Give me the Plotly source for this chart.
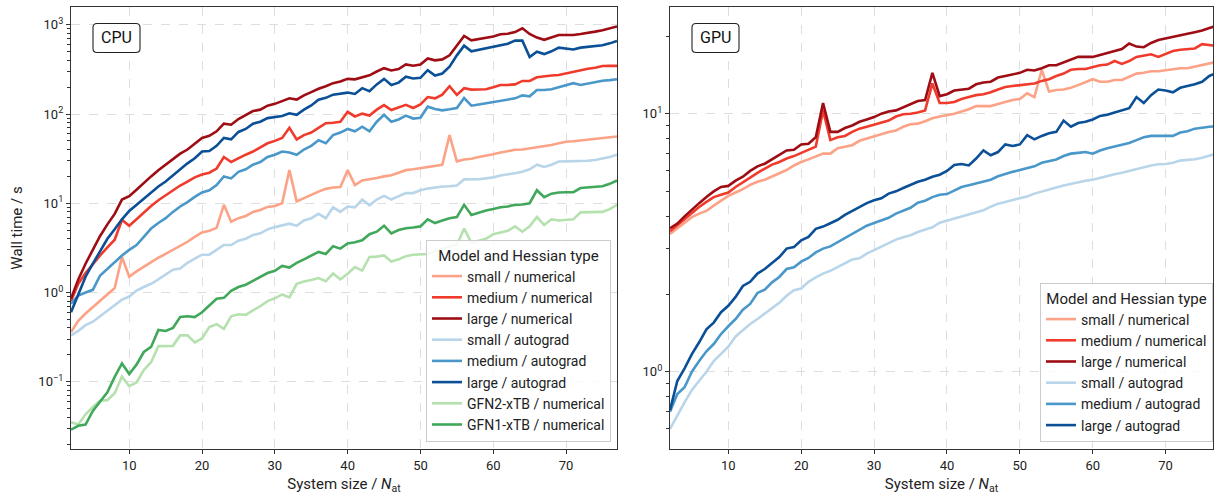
import plotly.graph_objects as go

n_atoms = list(range(2, 78))

# ---------------- CPU wall times (s) ----------------
cpu_small_num = [0.36, 0.48, 0.58, 0.68, 0.80, 0.95, 1.12, 2.5, 1.5, 1.72,
                 1.95, 2.2, 2.45, 2.7, 3.0, 3.3, 3.7, 4.2, 4.7, 4.9,
                 5.3, 9.6, 6.2, 6.8, 7.2, 8.0, 8.4, 9.1, 9.3, 10.0,
                 23.5, 10.5, 11.5, 12.4, 13.5, 14.5, 15.0, 15.2, 23.5, 16.0,
                 18.0, 18.5, 19.2, 20.0, 20.6, 22.0, 23.5, 24.0, 24.6, 25.5,
                 26.0, 27.0, 58.0, 29.5, 31.0, 31.5, 33.0, 34.0, 35.5, 37.0,
                 38.5, 39.8, 40.0, 41.0, 42.0, 43.5, 45.0, 47.0, 49.0, 49.5,
                 50.5, 52.0, 53.0, 54.0, 55.0, 56.0]
cpu_medium_num = [0.80, 1.25, 1.65, 2.1, 2.6, 3.2, 3.9, 6.5, 5.6, 6.6,
                  7.9, 9.3, 10.8, 12.3, 14.0, 15.8, 17.5, 19.5, 21.0, 22.0,
                  24.5, 33.0, 29.0, 32.0, 35.0, 38.0, 42.0, 47.0, 50.0, 54.0,
                  70.0, 52.0, 58.0, 62.0, 70.0, 79.0, 80.0, 82.0, 106.0, 94.0,
                  101.0, 96.0, 112.0, 126.0, 111.0, 118.0, 127.0, 117.0, 128.0, 155.0,
                  150.0, 165.0, 205.0, 164.0, 195.0, 188.0, 188.0, 190.0, 200.0, 212.0,
                  212.0, 215.0, 235.0, 235.0, 258.0, 265.0, 270.0, 274.0, 285.0, 300.0,
                  312.0, 322.0, 330.0, 345.0, 347.0, 347.0]
cpu_large_num = [0.85, 1.4, 2.1, 3.0, 4.3, 5.8, 7.6, 11.0, 12.0, 14.2,
                 17.0, 20.0, 23.5, 27.0, 31.0, 36.0, 40.0, 46.0, 54.0, 57.0,
                 64.0, 78.0, 76.0, 88.0, 98.0, 108.0, 112.0, 124.0, 130.0, 140.0,
                 150.0, 145.0, 162.0, 176.0, 192.0, 205.0, 222.0, 232.0, 248.0, 245.0,
                 258.0, 272.0, 300.0, 327.0, 308.0, 320.0, 360.0, 348.0, 360.0, 420.0,
                 400.0, 410.0, 455.0, 590.0, 750.0, 670.0, 695.0, 720.0, 740.0, 785.0,
                 795.0, 830.0, 915.0, 790.0, 720.0, 680.0, 720.0, 770.0, 770.0, 770.0,
                 790.0, 810.0, 840.0, 870.0, 910.0, 960.0]
cpu_small_auto = [0.33, 0.37, 0.43, 0.47, 0.54, 0.62, 0.72, 0.83, 0.90, 1.05,
                  1.15, 1.25, 1.40, 1.60, 1.80, 1.85, 2.15, 2.40, 2.65, 2.65,
                  3.0, 3.4, 3.4, 3.8, 4.0, 4.4, 4.6, 5.1, 5.4, 5.7,
                  5.9, 5.6, 6.4, 6.8, 7.6, 6.8, 9.0, 8.0, 9.2, 9.0,
                  11.0, 9.5, 11.0, 12.1, 11.0, 12.0, 13.0, 13.0, 14.0, 14.6,
                  15.0, 15.4, 15.5, 15.8, 18.5, 18.5, 18.6, 19.0, 19.5, 20.5,
                  21.0, 21.7, 22.5, 24.0, 27.0, 25.5, 27.0, 29.4, 29.5, 29.5,
                  29.5, 30.0, 30.5, 31.5, 33.0, 35.0]
cpu_medium_auto = [0.75, 0.92, 1.0, 1.07, 1.55, 1.85, 2.15, 2.6, 3.0, 3.4,
                   4.2, 5.2, 6.0, 6.8, 8.0, 9.2, 10.3, 11.8, 13.2, 14.0,
                   16.0, 20.0, 19.0, 22.5, 24.0, 27.0, 29.0, 33.0, 35.0, 38.0,
                   37.0, 35.0, 40.0, 44.0, 51.0, 47.0, 58.0, 62.0, 68.0, 64.0,
                   72.0, 64.0, 82.0, 98.0, 82.0, 87.0, 96.0, 89.0, 91.0, 121.0,
                   114.0, 110.0, 113.0, 117.0, 151.0, 124.0, 128.0, 132.0, 138.0, 142.0,
                   147.0, 150.0, 162.0, 158.0, 186.0, 186.0, 190.0, 200.0, 210.0, 222.0,
                   212.0, 220.0, 230.0, 236.0, 240.0, 246.0]
cpu_large_auto = [0.60, 0.95, 1.5, 2.1, 2.9, 4.0, 5.1, 6.6, 8.2, 9.6,
                  11.3, 13.2, 15.4, 17.5, 20.5, 24.0, 28.0, 32.0, 38.0, 38.5,
                  44.0, 54.0, 52.0, 63.0, 68.0, 78.0, 82.0, 90.0, 92.0, 95.0,
                  102.0, 98.0, 112.0, 125.0, 145.0, 152.0, 165.0, 170.0, 174.0, 168.0,
                  195.0, 180.0, 215.0, 248.0, 212.0, 225.0, 262.0, 250.0, 255.0, 310.0,
                  270.0, 285.0, 340.0, 455.0, 585.0, 505.0, 525.0, 555.0, 575.0, 595.0,
                  615.0, 665.0, 665.0, 435.0, 500.0, 470.0, 505.0, 555.0, 545.0, 530.0,
                  555.0, 570.0, 580.0, 590.0, 620.0, 660.0]
cpu_gfn2 = [0.035, 0.033, 0.043, 0.052, 0.061, 0.062, 0.074, 0.114, 0.089, 0.098,
            0.135, 0.165, 0.25, 0.252, 0.252, 0.33, 0.33, 0.275, 0.305, 0.41,
            0.44, 0.39, 0.54, 0.57, 0.56, 0.63, 0.70, 0.80, 0.86, 0.95,
            0.88, 1.25, 1.33, 1.38, 1.45, 1.34, 1.63, 1.40, 1.62, 1.93,
            1.76, 2.5, 2.52, 2.6, 2.22, 2.35, 2.55, 2.65, 2.7, 2.7,
            2.9, 3.1, 3.3, 3.4, 5.2, 3.6, 3.8, 4.0, 4.5, 4.7,
            4.9, 5.5, 4.8, 5.5, 7.0, 5.7, 6.6, 6.4, 6.5, 6.6,
            7.9, 7.9, 7.9, 8.0, 8.6, 9.6]
cpu_gfn1 = [0.029, 0.032, 0.033, 0.047, 0.060, 0.076, 0.113, 0.160, 0.122, 0.155,
            0.215, 0.245, 0.38, 0.37, 0.40, 0.53, 0.54, 0.53, 0.60, 0.72,
            0.85, 0.87, 1.04, 1.15, 1.22, 1.35, 1.48, 1.65, 1.75, 1.98,
            1.90, 2.15, 2.35, 2.6, 2.85, 2.7, 3.3, 3.1, 3.55, 3.65,
            3.85, 4.5, 4.8, 5.6, 4.6, 5.0, 5.25, 5.35, 5.5, 6.6,
            6.0, 6.4, 6.8, 7.0, 9.6, 7.4, 7.9, 8.3, 8.6, 9.0,
            9.2, 9.6, 9.7, 10.0, 14.0, 11.7, 12.8, 13.2, 13.3, 13.3,
            14.8, 15.0, 15.3, 15.5, 16.5, 18.0]

# ---------------- GPU wall times (s) ----------------
gpu_small_num = [3.42, 3.6, 3.8, 3.97, 4.1, 4.2, 4.4, 4.6, 4.8, 4.95,
                 5.1, 5.3, 5.45, 5.55, 5.7, 5.85, 6.05, 6.3, 6.5, 6.65,
                 6.8, 7.0, 7.0, 7.35, 7.45, 7.55, 7.85, 8.0, 8.2, 8.35,
                 8.5, 8.6, 8.9, 9.1, 9.15, 9.35, 9.6, 9.75, 9.85, 10.0,
                 10.2, 10.4, 10.7, 10.7, 10.7, 10.9, 11.1, 11.3, 11.4, 12.0,
                 11.6, 14.8, 12.2, 12.35, 12.4, 12.6, 12.9, 13.2, 13.6, 13.3,
                 13.3, 13.5, 13.5, 13.9, 14.3, 14.4, 14.6, 14.6, 14.7, 14.8,
                 15.0, 15.0, 15.2, 15.4, 15.7, 15.9]
gpu_medium_num = [3.5, 3.7, 3.9, 4.1, 4.35, 4.55, 4.75, 4.85, 4.95, 5.2,
                  5.4, 5.65, 5.9, 6.1, 6.35, 6.5, 6.7, 6.85, 7.05, 7.25,
                  7.45, 10.3, 7.9, 8.1, 8.2, 8.5, 8.75, 8.9, 9.05, 9.2,
                  9.4, 9.75, 9.95, 10.0, 10.1, 10.3, 13.1, 11.0, 11.0, 11.1,
                  11.4, 11.6, 11.8, 11.9, 12.1, 12.4, 12.7, 12.8, 12.9, 13.0,
                  13.1, 13.4, 13.6, 14.0, 14.3, 14.8, 14.9, 14.9, 15.2, 15.4,
                  15.5, 16.0, 15.6, 16.0, 16.6, 16.8, 17.0, 16.6, 17.0, 17.5,
                  17.7, 17.8, 17.9, 18.6, 18.4, 18.3]
gpu_large_num = [3.6, 3.75, 4.0, 4.25, 4.5, 4.75, 5.0, 5.2, 5.25, 5.5,
                 5.7, 6.0, 6.25, 6.4, 6.65, 6.9, 7.2, 7.25, 7.6, 7.65,
                 8.1, 11.0, 8.5, 8.5, 8.8, 9.0, 9.3, 9.5, 9.7, 10.0,
                 10.2, 10.3, 10.6, 10.9, 11.2, 11.3, 14.4, 11.7, 11.9, 12.3,
                 12.4, 12.5, 13.0, 13.2, 13.3, 13.8, 14.0, 14.2, 14.4, 14.8,
                 14.7, 15.0, 15.4, 15.4, 15.8, 16.2, 16.6, 16.6, 16.6, 16.9,
                 17.2, 17.6, 17.8, 18.7, 18.2, 18.1, 18.8, 19.3, 19.6, 19.9,
                 20.2, 20.4, 20.7, 21.0, 21.5, 21.9]
gpu_small_auto = [0.60, 0.68, 0.76, 0.85, 0.92, 1.0, 1.1, 1.17, 1.25, 1.37,
                  1.45, 1.53, 1.6, 1.68, 1.76, 1.85, 1.97, 2.07, 2.1, 2.23,
                  2.32, 2.4, 2.46, 2.55, 2.63, 2.72, 2.75, 2.87, 2.96, 3.05,
                  3.14, 3.25, 3.32, 3.38, 3.48, 3.55, 3.63, 3.78, 3.85, 3.92,
                  4.0, 4.08, 4.15, 4.22, 4.36, 4.48, 4.55, 4.62, 4.7, 4.78,
                  4.9, 5.0, 5.08, 5.18, 5.27, 5.35, 5.45, 5.5, 5.55, 5.65,
                  5.72, 5.82, 5.9, 6.0, 6.1, 6.22, 6.3, 6.37, 6.38, 6.45,
                  6.58, 6.62, 6.66, 6.75, 6.9, 7.0]
gpu_medium_auto = [0.70, 0.82, 0.87, 1.0, 1.1, 1.2, 1.28, 1.4, 1.5, 1.6,
                   1.74, 1.83, 2.02, 2.08, 2.22, 2.33, 2.5, 2.54, 2.67, 2.76,
                   2.9, 3.0, 3.06, 3.18, 3.3, 3.42, 3.55, 3.68, 3.77, 3.85,
                   3.95, 4.1, 4.2, 4.32, 4.52, 4.6, 4.75, 4.85, 4.88, 5.05,
                   5.2, 5.28, 5.38, 5.47, 5.55, 5.72, 5.85, 5.95, 6.05, 6.15,
                   6.25, 6.45, 6.55, 6.65, 6.85, 7.0, 7.05, 7.1, 7.0, 7.2,
                   7.35, 7.45, 7.6, 7.7, 7.9, 8.1, 8.2, 8.2, 8.15, 8.2,
                   8.45, 8.55, 8.75, 8.85, 8.9, 8.95]
gpu_large_auto = [0.71, 0.92, 1.03, 1.17, 1.3, 1.46, 1.55, 1.7, 1.8, 1.95,
                  2.15, 2.23, 2.4, 2.5, 2.64, 2.78, 3.0, 3.04, 3.23, 3.33,
                  3.58, 3.65, 3.76, 3.88, 4.05, 4.2, 4.35, 4.5, 4.62, 4.7,
                  4.9, 5.0, 5.15, 5.3, 5.45, 5.55, 5.7, 5.8, 6.0, 6.33,
                  6.38, 6.3, 6.7, 7.2, 6.9, 7.1, 7.6, 7.5, 7.6, 8.25,
                  7.95, 8.2, 8.4, 8.5, 9.4, 8.9, 9.2, 9.3, 9.5, 9.8,
                  9.9, 10.1, 10.3, 10.5, 11.6, 11.0, 11.8, 12.4, 12.3, 12.1,
                  12.6, 12.8, 13.0, 13.3, 14.0, 14.4]

labels = ["small / numerical", "medium / numerical", "large / numerical",
          "small / autograd", "medium / autograd", "large / autograd",
          "GFN2-xTB / numerical", "GFN1-xTB / numerical"]
colors = ["#fca286", "#f03b2c", "#9e0d14",
          "#b9d5ea", "#4a97c9", "#0b4f96",
          "#b5e1ae", "#41a85b"]

cpu_series = [cpu_small_num, cpu_medium_num, cpu_large_num,
              cpu_small_auto, cpu_medium_auto, cpu_large_auto,
              cpu_gfn2, cpu_gfn1]
gpu_series = [gpu_small_num, gpu_medium_num, gpu_large_num,
              gpu_small_auto, gpu_medium_auto, gpu_large_auto]

FONT = "Roboto, 'Open Sans', sans-serif"
TXT = "#222222"
fig = go.Figure()

for lab, col, ys in zip(labels, colors, cpu_series):
    fig.add_trace(go.Scatter(x=n_atoms, y=ys, mode="lines", name=lab,
                             line=dict(color=col, width=2.6),
                             xaxis="x", yaxis="y", legend="legend"))
for lab, col, ys in zip(labels, colors, gpu_series):
    fig.add_trace(go.Scatter(x=n_atoms, y=ys, mode="lines", name=lab,
                             line=dict(color=col, width=2.6),
                             xaxis="x2", yaxis="y2", legend="legend2"))

W, H = 1214, 496
ml, mr, mt, mb = 71, 1, 7, 47
pw = W - ml - mr
ph = H - mt - mb
d1 = [0.0, (617 - ml) / pw]
d2 = [(670 - ml) / pw, 1.0]

grid = dict(showgrid=True, gridcolor="#dedede", griddash="dash", gridwidth=1)
axline = dict(showline=True, linecolor="#333333", linewidth=1.2, mirror=True,
              ticks="outside", ticklen=4, tickcolor="#333333", zeroline=False,
              tickfont=dict(size=13, color=TXT))

xtitle = dict(text="System size / <i>N</i><sub>at</sub>", font=dict(size=15, color=TXT), standoff=6)

def minor_vals(lo_dec, hi_dec):
    vals = []
    for d in range(lo_dec, hi_dec + 1):
        for m in range(2, 10):
            vals.append(m * 10 ** d)
    return vals

legend_common = dict(title=dict(text="Model and Hessian type", side="top center",
                                font=dict(size=15, color=TXT)),
                     y=(449 - 442) / ph, xanchor="right", yanchor="bottom",
                     bgcolor="rgba(255,255,255,0.85)", bordercolor="#cccccc", borderwidth=1,
                     font=dict(size=14, color=TXT), itemwidth=30, tracegroupgap=0)

fig.update_layout(
    width=W, height=H,
    margin=dict(l=ml, r=mr, t=mt, b=mb),
    paper_bgcolor="white", plot_bgcolor="white",
    font=dict(family=FONT, size=13, color=TXT),
    xaxis=dict(domain=d1, range=[2, 77], tickvals=[10, 20, 30, 40, 50, 60, 70],
               title=xtitle, anchor="y", **grid, **axline),
    yaxis=dict(domain=[0, 1], type="log", range=[-1.755, 3.2],
               tickvals=[0.1, 1, 10, 100, 1000],
               ticktext=["10<sup>\u22121</sup>", "10<sup>0</sup>", "10<sup>1</sup>",
                         "10<sup>2</sup>", "10<sup>3</sup>"],
               minor=dict(tickvals=minor_vals(-2, 3), ticks="outside", ticklen=2.5,
                          tickcolor="#333333", showgrid=False),
               title=dict(text="Wall time / s", font=dict(size=15, color=TXT), standoff=12),
               anchor="x", **grid, **axline),
    xaxis2=dict(domain=d2, range=[2, 76.5], tickvals=[10, 20, 30, 40, 50, 60, 70],
                title=xtitle, anchor="y2", **grid, **axline),
    yaxis2=dict(domain=[0, 1], type="log", range=[-0.2996, 1.4135],
                tickvals=[1, 10], ticktext=["10<sup>0</sup>", "10<sup>1</sup>"],
                minor=dict(tickvals=minor_vals(-1, 1), ticks="outside", ticklen=2.5,
                           tickcolor="#333333", showgrid=False),
                anchor="x2", **grid, **axline),
    legend=dict(x=(611 - ml) / pw, **legend_common),
    legend2=dict(x=1.0, **legend_common),
    showlegend=True,
)

def rounded_box(x0, x1, y0, y1, rx, ry):
    return (f"M {x0+rx},{y0} L {x1-rx},{y0} Q {x1},{y0} {x1},{y0+ry} "
            f"L {x1},{y1-ry} Q {x1},{y1} {x1-rx},{y1} L {x0+rx},{y1} "
            f"Q {x0},{y1} {x0},{y1-ry} L {x0},{y0+ry} Q {x0},{y0} {x0+rx},{y0} Z")

for xr, yr, dom, txt in [("x domain", "y domain", d1, "CPU"),
                         ("x2 domain", "y2 domain", d2, "GPU")]:
    wpx = (dom[1] - dom[0]) * pw
    bx0, bx1 = 22 / wpx, 69 / wpx
    by1, by0 = 1 - 16.5 / ph, 1 - 45.5 / ph
    fig.add_shape(type="path", xref=xr, yref=yr,
                  path=rounded_box(bx0, bx1, by0, by1, 4 / wpx, 4 / ph),
                  line=dict(color=TXT, width=1.1), fillcolor="white", layer="above")
    fig.add_annotation(xref=xr, yref=yr, x=(bx0 + bx1) / 2, y=(by0 + by1) / 2,
                       text=txt, showarrow=False, font=dict(size=16, color="#111111"),
                       xanchor="center", yanchor="middle")

fig.write_html("out.html")
